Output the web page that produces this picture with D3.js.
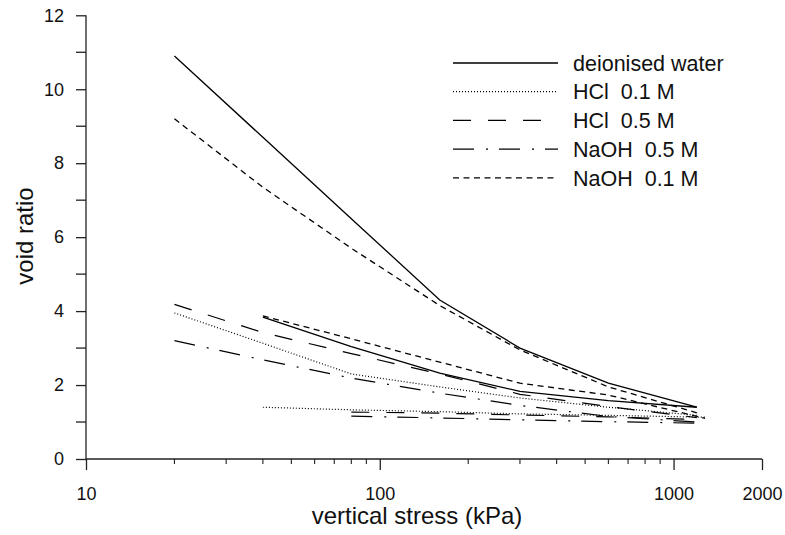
<!DOCTYPE html>
<html>
<head>
<meta charset="utf-8">
<script src="https://cdn.jsdelivr.net/npm/d3@7/dist/d3.min.js"></script>
<style>
  html, body { margin: 0; padding: 0; background: #fff; }
  svg { display: block; font-family: "Liberation Sans", Arial, sans-serif; }
</style>
</head>
<body>
<svg id="chart" width="785" height="535"></svg>
<script>
// ---- data ----
const seriesNames = ["deionised water", "HCl  0.1 M", "HCl  0.5 M", "NaOH  0.5 M", "NaOH  0.1 M"];

// first loading set (starting at 20 kPa)
const stress1 = [20, 40, 80, 160, 300, 600, 1200];
const water1 = [10.9, 8.7, 6.5, 4.3, 3.0, 2.05, 1.4];
const hcl01_1 = [3.95, 3.13, 2.3, 1.95, 1.65, 1.4, 1.18];
const hcl05_1 = [4.18, 3.42, 2.85, 2.3, 1.75, 1.42, 1.12];
const naoh05_1 = [3.2, 2.68, 2.19, 1.78, 1.45, 1.15, 1.0];
const naoh01_1 = [9.2, 7.35, 5.7, 4.15, 2.95, 1.95, 1.25];

// second specimens
const stressW2 = [40, 80, 160, 300, 600, 1200];
const water2 = [3.84, 3.04, 2.32, 1.83, 1.58, 1.4];
const stressH01_2 = [40, 80, 160, 300, 600, 1280];
const hcl01_2 = [1.4, 1.33, 1.28, 1.22, 1.18, 1.13];
const stressH05_2 = [80, 160, 300, 600, 1200];
const hcl05_2 = [1.27, 1.24, 1.19, 1.14, 1.07];
const stressN05_2 = [80, 160, 300, 600, 1200];
const naoh05_2 = [1.16, 1.11, 1.06, 1.01, 0.97];
const stressN01_2 = [40, 80, 160, 300, 600, 1280];
const naoh01_2 = [3.87, 3.25, 2.62, 2.05, 1.73, 1.1];

const xTickLabels = [10, 100, 1000, 2000];
const xMinorTicks = [20, 30, 40, 50, 60, 70, 80, 90, 200, 300, 400, 500, 600, 700, 800, 900];
const yTickLabels = [0, 2, 4, 6, 8, 10, 12];
const yMinorTicks = [1, 3, 5, 7, 9, 11];

// ---- styles ----
const dashStyles = [null, "1,2", "18,17", "21,12,2,11", "6,4.5"];
const widths = [1.3, 1.2, 1.2, 1.2, 1.3];

const svg = d3.select("#chart");
const x = d3.scaleLog().domain([10, 2000]).range([86, 762]);
const y = d3.scaleLinear().domain([0, 12]).range([459, 15.3]);

const axisColor = "#222";

// Y axis
const yAxis = d3.axisLeft(y).tickValues(yTickLabels).tickSize(10).tickPadding(12).tickFormat(d3.format("d"));
const gy = svg.append("g").attr("transform", `translate(${x(10)},0)`).call(yAxis);
gy.selectAll(".tick line").attr("stroke", axisColor).attr("stroke-width", 1.3);
gy.select(".domain").remove();
gy.selectAll("text").attr("font-size", 18).attr("fill", "#111");
gy.selectAll(".minor").data(yMinorTicks).enter().append("line")
  .attr("x1", -10).attr("x2", 0).attr("y1", d => y(d)).attr("y2", d => y(d))
  .attr("stroke", axisColor).attr("stroke-width", 1.3);
gy.append("line").attr("x1", 0).attr("x2", 0).attr("y1", y(12)).attr("y2", y(0))
  .attr("stroke", axisColor).attr("stroke-width", 1.3);

// X axis
const xAxis = d3.axisBottom(x).tickValues(xTickLabels).tickSize(11).tickPadding(17).tickFormat(d3.format("d"));
const gx = svg.append("g").attr("transform", `translate(0,${y(0)})`).call(xAxis);
gx.select(".domain").remove();
gx.selectAll(".tick line").attr("stroke", axisColor).attr("stroke-width", 1.3);
gx.selectAll("text").attr("font-size", 18).attr("fill", "#111");
gx.selectAll(".minor").data(xMinorTicks).enter().append("line")
  .attr("x1", d => x(d)).attr("x2", d => x(d)).attr("y1", 0).attr("y2", 5)
  .attr("stroke", axisColor).attr("stroke-width", 1.1);
gx.append("line").attr("x1", x(10)).attr("x2", x(2000)).attr("y1", 0).attr("y2", 0)
  .attr("stroke", axisColor).attr("stroke-width", 1.3);

// Axis titles
svg.append("text").attr("x", 417).attr("y", 524).attr("text-anchor", "middle")
  .attr("font-size", 24).attr("fill", "#111").text("vertical stress (kPa)");
svg.append("text").attr("transform", "translate(33,236) rotate(-90)").attr("text-anchor", "middle")
  .attr("font-size", 24).attr("fill", "#111").text("void ratio");

// Lines
const line = d3.line().x(d => x(d[0])).y(d => y(d[1]));
const zip = (xs, ys) => xs.map((v, i) => [v, ys[i]]);
const curves = [
  { s: 0, pts: zip(stress1, water1) },
  { s: 0, pts: zip(stressW2, water2) },
  { s: 4, pts: zip(stress1, naoh01_1) },
  { s: 4, pts: zip(stressN01_2, naoh01_2) },
  { s: 1, pts: zip(stress1, hcl01_1) },
  { s: 1, pts: zip(stressH01_2, hcl01_2) },
  { s: 2, pts: zip(stress1, hcl05_1) },
  { s: 2, pts: zip(stressH05_2, hcl05_2) },
  { s: 3, pts: zip(stress1, naoh05_1) },
  { s: 3, pts: zip(stressN05_2, naoh05_2) }
];
svg.append("g").selectAll("path").data(curves).enter().append("path")
  .attr("d", d => line(d.pts))
  .attr("fill", "none").attr("stroke", "#000")
  .attr("stroke-width", d => widths[d.s])
  .attr("stroke-dasharray", d => dashStyles[d.s]);

// Legend
const leg = svg.append("g");
seriesNames.forEach((name, i) => {
  const yy = 63 + i * 28.7;
  leg.append("line").attr("x1", 453).attr("x2", 558).attr("y1", yy).attr("y2", yy)
    .attr("stroke", "#000").attr("stroke-width", widths[i])
    .attr("stroke-dasharray", dashStyles[i]);
  leg.append("text").attr("x", 573).attr("y", yy).attr("dy", "0.36em")
    .attr("font-size", 21.5).attr("fill", "#111")
    .attr("xml:space", "preserve").style("white-space", "pre").text(name);
});
</script>
</body>
</html>
